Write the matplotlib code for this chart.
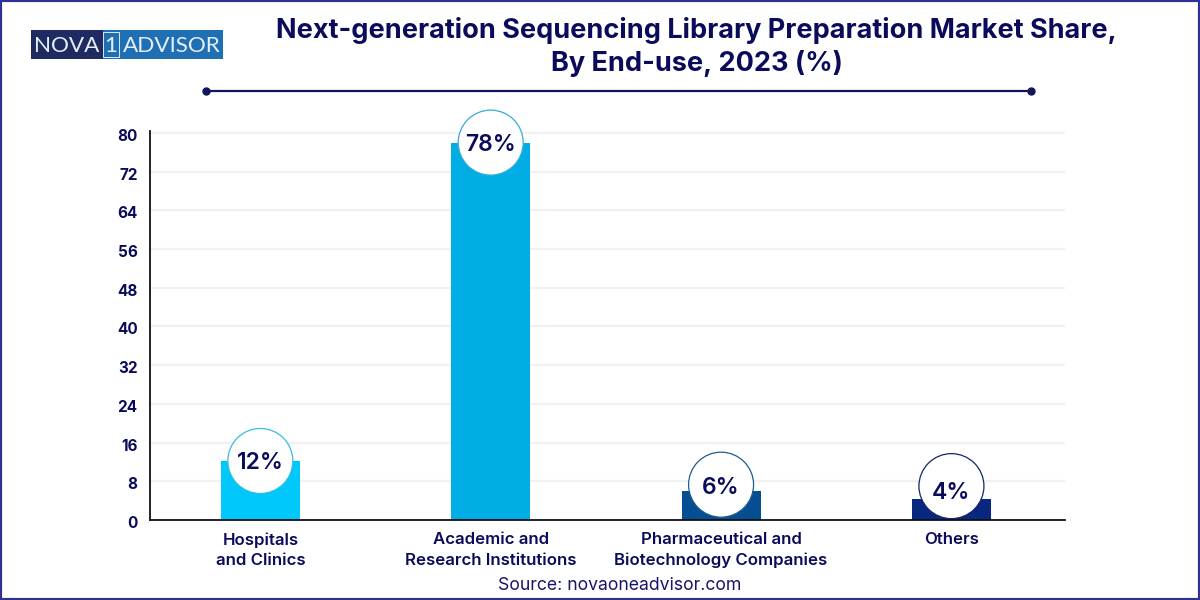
import matplotlib
matplotlib.use("Agg")
import matplotlib.pyplot as plt
from matplotlib.patches import Rectangle
from matplotlib.lines import Line2D
from matplotlib.transforms import ScaledTranslation

categories = ["Hospitals\nand Clinics", "Academic and\nResearch Institutions",
              "Pharmaceutical and\nBiotechnology Companies", "Others"]
values = [12.2, 78, 6, 4.3]
value_labels = ["12%", "78%", "6%", "4%"]
circle_y = [12.2, 78, 7.3, 7.0]
label_y = [11.8, 77.6, 6.6, 5.5]
bar_colors = ["#00C8FA", "#00AEE5", "#044E91", "#08277E"]
ring_colors = ["#35BDE0", "#35ABD8", "#1F5C90", "#14246E"]
y_ticks = [0, 8, 16, 24, 32, 40, 48, 56, 64, 72, 80]
title = "Next-generation Sequencing Library Preparation Market Share,\nBy End-use, 2023 (%)"
source = "Source: novaoneadvisor.com"

NAVY = "#0B0B5C"
FONT = "Inter"
W, H = 1200, 600
plt.rcParams["font.family"] = [FONT, "DejaVu Sans"]

fig = plt.figure(figsize=(12, 6), dpi=100, facecolor="white")
ax = fig.add_axes([150 / W, 80 / H, 915 / W, 389 / H])
ax.set_xlim(-0.479, 3.493)
ax.set_ylim(0, 80.4)
ax.set_axisbelow(True)

ax.bar(range(len(values)), values, width=0.343, color=bar_colors, zorder=2)
ax.scatter(range(len(values)), circle_y, s=2190, facecolor="white",
           edgecolor=ring_colors, linewidth=0.9, zorder=3, clip_on=False)
for i, (ly, lab) in enumerate(zip(label_y, value_labels)):
    ax.text(i, ly, lab, ha="center", va="center", fontsize=16.5, fontweight="semibold",
            color=NAVY, zorder=4)

ax.set_yticks(y_ticks)
ax.set_xticks(range(len(categories)))
ax.set_xticklabels(categories, fontsize=12.1, fontweight="semibold", color=NAVY, linespacing=1.42)
ax.tick_params(axis="x", length=0, pad=9)
ax.tick_params(axis="y", length=0, pad=9, labelsize=11, labelcolor=NAVY)
tick_offset = ScaledTranslation(0, -2 / 100, fig.dpi_scale_trans)
for t in ax.get_yticklabels():
    t.set_fontweight("bold")
    t.set_transform(t.get_transform() + tick_offset)
ax.yaxis.grid(True, color="#F1F1F1", linewidth=1.6)
for s in ("top", "right"):
    ax.spines[s].set_visible(False)
for s in ("left", "bottom"):
    ax.spines[s].set_color("#101018")
    ax.spines[s].set_linewidth(1.3)

# title, rule, source
fig.text(696.5 / W, 1 - 47 / H, title, ha="center", va="center", fontsize=19.5,
         fontweight="bold", color=NAVY, linespacing=1.25)
fig.add_artist(Line2D([206 / W, 1031 / W], [1 - 90.5 / H] * 2, color="#14145A", lw=1.6,
                      marker="o", markersize=5, markevery=[0, 1]))
fig.text(619.5 / W, 1 - 586 / H, source, ha="center", va="center", fontsize=12.7, color="#16166A")

# logo
fig.add_artist(Rectangle((31 / W, 1 - 59 / H), 72 / W, 29 / H, transform=fig.transFigure,
                         facecolor="#1F2A60", edgecolor="none"))
fig.add_artist(Rectangle((103 / W, 1 - 59 / H), 120 / W, 29 / H, transform=fig.transFigure,
                         facecolor="#1F6FB5", edgecolor="none"))
fig.add_artist(Rectangle((102.5 / W, 1 - 57 / H), 16 / W, 25 / H, transform=fig.transFigure,
                         facecolor="none", edgecolor="#DDE8F5", lw=0.7))
logo_kw = dict(va="center", color="#E6EEF8", fontsize=16.2, family=["Lato", "DejaVu Sans"], fontweight="normal")
fig.text(34.5 / W, 1 - 45.5 / H, "NOVA", ha="left", **logo_kw)
fig.text(110.5 / W, 1 - 45.5 / H, "1", ha="center", **logo_kw)
fig.text(122.5 / W, 1 - 45.5 / H, "ADVISOR", ha="left", **logo_kw)

# frame
fig.add_artist(Rectangle((0, 0), 1, 1, transform=fig.transFigure, facecolor="none",
                         edgecolor="#2E3192", lw=3.0))

fig.savefig("out.png", dpi=100)
